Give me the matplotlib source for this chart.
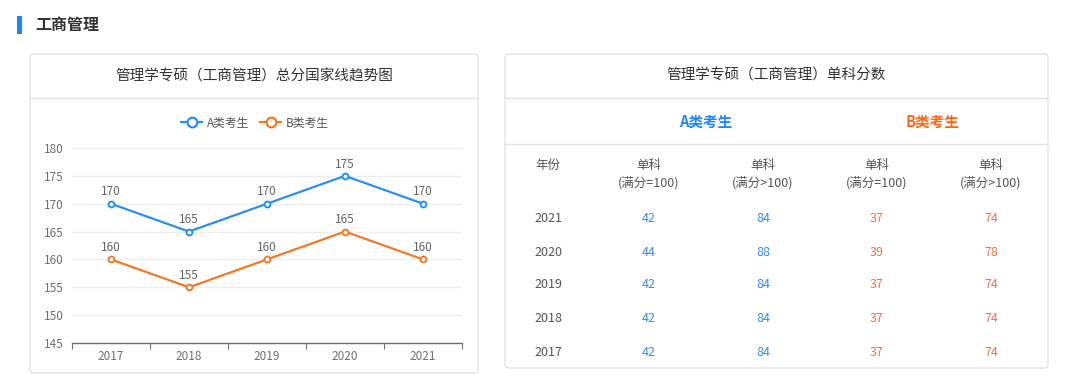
import matplotlib
matplotlib.use("Agg")
import matplotlib.pyplot as plt
from matplotlib.patches import FancyBboxPatch, Rectangle
from matplotlib.lines import Line2D

plt.rcParams['font.family'] = ['Noto Sans CJK SC', 'DejaVu Sans']

# ---------------- data ----------------
years = ["2017", "2018", "2019", "2020", "2021"]
total_a = [170, 165, 170, 175, 170]
total_b = [160, 155, 160, 165, 160]
series_names = ["A类考生", "B类考生"]
y_ticks = [145, 150, 155, 160, 165, 170, 175, 180]

table_years = ["2021", "2020", "2019", "2018", "2017"]
a_single_100 = [42, 44, 42, 42, 42]
a_single_gt100 = [84, 88, 84, 84, 84]
b_single_100 = [37, 39, 37, 37, 37]
b_single_gt100 = [74, 78, 74, 74, 74]
col_headers = ["年份", "单科\n(满分=100)", "单科\n(满分>100)", "单科\n(满分=100)", "单科\n(满分>100)"]

section_title = "工商管理"
left_title = "管理学专硕（工商管理）总分国家线趋势图"
right_title = "管理学专硕（工商管理）单科分数"

# ---------------- style ----------------
BLUE = "#2a8ff0"
ORANGE = "#f07a26"
TBL_BLUE = "#3a8de2"
TBL_ORANGE = "#ef7440"
HEAD_BLUE = "#1f86f5"
HEAD_ORANGE = "#fb6a1c"
BORDER = "#e4e4e4"
AXIS_GREY = "#6e7079"
TEXT_DARK = "#333333"
TEXT_MID = "#555555"

W, H = 1080, 390
fig = plt.figure(figsize=(W / 100, H / 100), dpi=100, facecolor="white")

bg = fig.add_axes([0, 0, 1, 1], zorder=0)
bg.set_xlim(0, W)
bg.set_ylim(H, 0)
bg.axis("off")

# section header
bg.add_patch(Rectangle((17, 16), 5, 18, color="#1e88e5", lw=0))
bg.text(35, 25, section_title, fontsize=11.5, fontweight="bold", color=TEXT_DARK,
        ha="left", va="center")

# cards
for (x0, y0, x1, y1) in [(30, 54, 478, 373), (505, 54, 1048, 368)]:
    bg.add_patch(FancyBboxPatch((x0, y0), x1 - x0, y1 - y0,
                                boxstyle="round,pad=0,rounding_size=4",
                                fc="white", ec=BORDER, lw=1))
    bg.plot([x0, x1], [98, 98], color=BORDER, lw=1)
bg.plot([505, 1048], [144, 144], color=BORDER, lw=1)

bg.text(254, 76, left_title, fontsize=10.5, color=TEXT_DARK, ha="center", va="center")
bg.text(776, 76, right_title, fontsize=10.5, color=TEXT_DARK, ha="center", va="center")

# ---------------- line chart ----------------
ax = fig.add_axes([72 / W, (H - 343) / H, 390 / W, 195 / H], zorder=2)
ax.set_facecolor("none")
xs = list(range(len(years)))
for vals, col, name in [(total_a, BLUE, series_names[0]), (total_b, ORANGE, series_names[1])]:
    ax.plot(xs, vals, color=col, lw=1.6, marker="o", ms=4.2, mfc="white",
            mec=col, mew=1.4, label=name, zorder=3, clip_on=False)
    for x, v in zip(xs, vals):
        ax.annotate(str(v), (x, v), xytext=(0, 8.5), textcoords="offset points",
                    ha="center", va="center", fontsize=8.5, color="#666666")

ax.set_xlim(-0.5, len(years) - 0.5)
ax.set_ylim(min(y_ticks), max(y_ticks))
ax.set_yticks(y_ticks)
ax.set_yticklabels([str(t) for t in y_ticks])
ax.tick_params(axis="y", length=0, pad=6, labelsize=8.5, labelcolor=AXIS_GREY)
ax.grid(axis="y", color="#eeeeee", lw=1)
ax.set_axisbelow(True)
ax.set_xticks([i - 0.5 for i in range(len(years) + 1)])
ax.set_xticklabels([])
ax.set_xticks(xs, minor=True)
ax.set_xticklabels(years, minor=True)
ax.tick_params(axis="x", which="major", length=4, color=AXIS_GREY, direction="out")
ax.tick_params(axis="x", which="minor", length=0, pad=5, labelsize=8.5, labelcolor=AXIS_GREY)
for s in ["left", "right", "top"]:
    ax.spines[s].set_visible(False)
ax.spines["bottom"].set_color(AXIS_GREY)
ax.spines["bottom"].set_linewidth(1)

handles = [Line2D([0], [0], color=c, lw=1.6, marker="o", ms=7, mfc="white", mec=c, mew=1.6)
           for c in (BLUE, ORANGE)]
fig.legend(handles, series_names, loc="center", bbox_to_anchor=(255 / W, 1 - 123 / H),
           ncol=2, frameon=False, fontsize=8.5, handlelength=1.8, handletextpad=0.4,
           columnspacing=0.9, labelcolor=TEXT_MID)

# ---------------- table ----------------
col_x = [548, 649, 763, 877, 991]
row_y = [218, 252, 285, 318, 352]
bg.text(706, 122, series_names[0], fontsize=10.5, fontweight="bold", color=HEAD_BLUE,
        ha="center", va="center")
bg.text(933, 122, series_names[1], fontsize=10.5, fontweight="bold", color=HEAD_ORANGE,
        ha="center", va="center")
for i, hdr in enumerate(col_headers):
    lines = hdr.split("\n")
    bg.text(col_x[i], 165, lines[0], fontsize=9, color=TEXT_MID, ha="center", va="center")
    if len(lines) > 1:
        bg.text(col_x[i], 183, lines[1], fontsize=9, color=TEXT_MID, ha="center", va="center")

cols = [(a_single_100, TBL_BLUE), (a_single_gt100, TBL_BLUE),
        (b_single_100, TBL_ORANGE), (b_single_gt100, TBL_ORANGE)]
for r, yr in enumerate(table_years):
    bg.text(col_x[0], row_y[r], yr, fontsize=9, color=TEXT_MID, ha="center", va="center")
    for c, (vals, colr) in enumerate(cols):
        bg.text(col_x[c + 1], row_y[r], str(vals[r]), fontsize=9, color=colr,
                ha="center", va="center")

fig.savefig("out.png", dpi=100, facecolor="white")
